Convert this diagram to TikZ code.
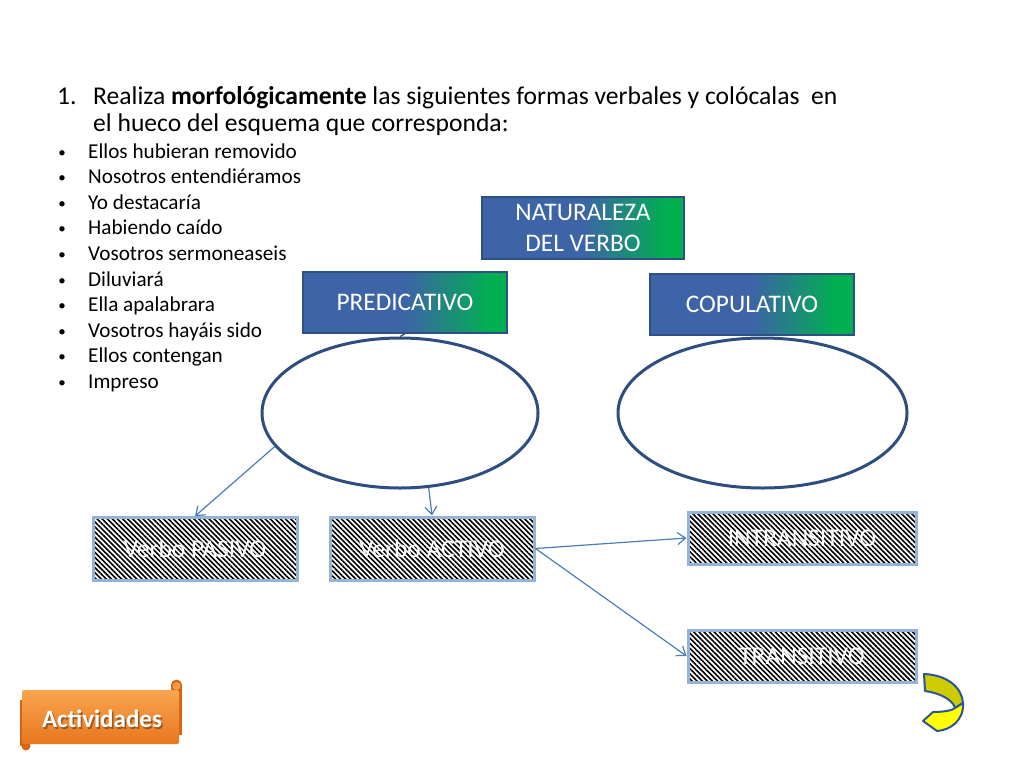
\documentclass[tikz,border=0pt]{standalone}
\usepackage{fontspec}
\setmainfont{Carlito}
\usetikzlibrary{shapes.geometric,arrows.meta,patterns.meta}
\definecolor{boxblue}{RGB}{60,100,166}
\definecolor{boxgreen}{RGB}{0,176,80}
\definecolor{boxborder}{RGB}{46,80,130}
\definecolor{ellcolor}{RGB}{47,78,128}
\definecolor{hatchborder}{RGB}{149,179,215}
\definecolor{arrowcol}{RGB}{74,126,187}
\definecolor{darkyel}{RGB}{204,204,0}
\definecolor{brightyel}{RGB}{255,255,0}
\definecolor{yelline}{RGB}{47,85,151}
\definecolor{orangetop}{RGB}{249,165,80}
\definecolor{orangebot}{RGB}{232,118,30}
\definecolor{orangedark}{RGB}{214,100,20}
\pgfdeclarehorizontalshading{bluegreen}{100bp}{color(0bp)=(boxblue); color(25bp)=(boxblue); color(50bp)=(boxblue); color(71bp)=(boxgreen); color(75bp)=(boxgreen); color(100bp)=(boxgreen)}
\begin{document}
\begin{tikzpicture}[x=1pt,y=-1pt,
  txt/.style={inner sep=0pt,anchor=base west,font=\fontsize{21.2}{25}\selectfont},
  gradbox/.style={draw=boxborder,line width=1.5pt,shading=bluegreen,
     text=white,font=\fontsize{25.3}{31}\selectfont,align=center,inner sep=0pt},
  hatchbox/.style={draw=hatchborder,line width=3pt,preaction={fill=white},
     pattern={Lines[angle=-45,distance=3.6pt,line width=1.6pt]},pattern color=black,
     text=white,font=\fontsize{25.5}{30}\selectfont,inner sep=0pt},
  ell/.style={ellipse,draw=ellcolor,line width=3pt,inner sep=0pt},
  conn/.style={draw=arrowcol,line width=1.2pt,-{Straight Barb[length=8pt,width=12pt,line width=1.2pt]}}
]
\useasboundingbox (0,0) rectangle (1024,768);
\fill[white] (0,0) rectangle (1024,768);

% title
\node[txt,font=\fontsize{25.6}{30}\selectfont] (tnum) at (57,104) {1.};
\node[txt,font=\fontsize{25.6}{30}\selectfont] (t1) at (93,104) {Realiza \textbf{morfológicamente} las siguientes formas verbales y colócalas\ \ en};
\node[txt,font=\fontsize{25.6}{30}\selectfont] (t2) at (93,131) {el hueco del esquema que corresponda:};

% bullet list
\foreach \t [count=\i] in {Ellos hubieran removido,Nosotros entendiéramos,Yo destacaría,Habiendo caído,Vosotros sermoneaseis,Diluviará,Ella apalabrara,Vosotros hayáis sido,Ellos contengan,Impreso}{
  \node[txt] (bt\i) at (88,{158+(\i-1)*25.6}) {\t};
  \node[txt,anchor=base,font=\fontsize{15}{18}\selectfont] (bd\i) at (62,{157+(\i-1)*25.6}) {•};
}

% gradient boxes
\node[gradbox,minimum width=202pt,minimum height=62pt] (nat) at (583,228) {NATURALEZA\\DEL VERBO};
\node[gradbox,minimum width=204pt,minimum height=61pt] (pred) at (405,302.5) {PREDICATIVO};
\node[gradbox,minimum width=204pt,minimum height=61pt] (cop) at (752,304.5) {COPULATIVO};

% ellipses
\node[ell,minimum width=276pt,minimum height=150pt] (eL) at (400,413) {};
\node[ell,minimum width=289pt,minimum height=150pt] (eR) at (762.5,413) {};

% hatched boxes
\node[hatchbox,minimum width=204pt,minimum height=63pt] (pas) at (195,548.5) {Verbo PASIVO};
\node[hatchbox,minimum width=204pt,minimum height=63pt] (act) at (432,548.5) {Verbo ACTIVO};
\node[hatchbox,minimum width=228pt,minimum height=52pt] (intr) at (802,538) {INTRANSITIVO};
\node[hatchbox,minimum width=228pt,minimum height=52pt] (tran) at (802,656) {TRANSITIVO};

% connectors
\draw[draw=ellcolor,line width=1.2pt] (pred.south) -- (eL.north);
\draw[conn] (eL.195) -- (pas.north);
\draw[conn] (eL.-69) -- (act.north);
\draw[conn] (act.east) -- (intr.west);
\draw[conn] (act.east) -- (tran.west);

% yellow curved arrow
\filldraw[fill=darkyel,draw=yelline,line width=2pt,line join=round]
  (924,674) .. controls (948,675) and (962,688) .. (963,703) -- (955,708)
  .. controls (953,700) and (940,693) .. (925,691) -- cycle;
\filldraw[fill=brightyel,draw=yelline,line width=2pt,line join=round]
  (963,703) .. controls (964,720) and (951,730) .. (937,731) -- (923,721) -- (933,712)
  .. controls (945,712) and (953,710) .. (955,708) -- cycle;

% Actividades banner
\fill[orangedark] (20,700) rectangle (30,746);
\fill[orangedark] (26,746) circle (4.5);
\fill[orangedark] (171,684) rectangle (182,735);
\fill[orangedark] (176.5,685) circle (5.5);
\shade[top color=orangetop,bottom color=orangebot,rounded corners=2pt] (22,690) rectangle (179,744);
\fill[orangetop!80!orangebot] (176.5,686) circle (4);
\node[inner sep=0pt,text=black,opacity=0.35,font=\fontsize{25}{29}\selectfont\bfseries] (actsh) at (103.5,720.5) {Actividades};
\node[inner sep=0pt,text=white,font=\fontsize{25}{29}\selectfont\bfseries] (actv) at (102,719) {Actividades};
\end{tikzpicture}
\end{document}
